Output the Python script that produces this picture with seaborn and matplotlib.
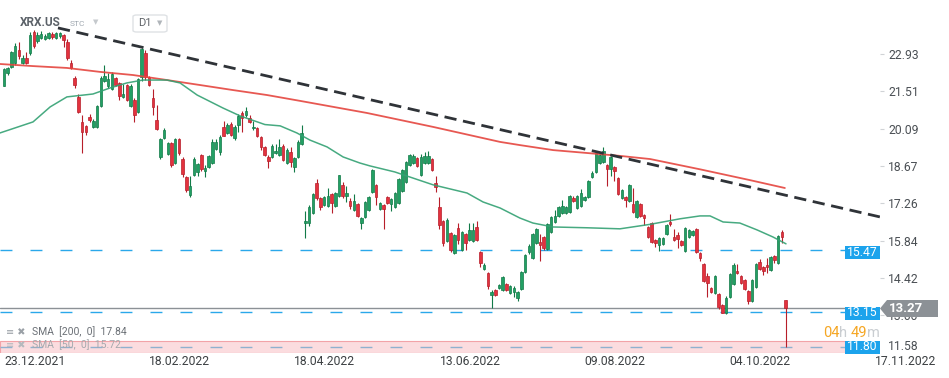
import matplotlib
matplotlib.use("Agg")
import matplotlib.pyplot as plt
import seaborn as sns
import pandas as pd
from matplotlib.patches import Polygon, Rectangle, FancyBboxPatch

# Données (bougies journalières XRX.US)
opens = [21.72, 22.20, 22.44, 22.60, 23.10, 22.60, 22.78, 22.97, 23.77, 23.43,
         23.55, 23.50, 23.53, 23.70, 23.55, 23.60, 23.65, 23.38, 22.60, 22.00,
         21.30, 20.35, 20.20, 20.55, 20.15, 20.15, 20.95, 21.90, 21.72, 21.60,
         22.00, 21.83, 21.30, 21.75, 20.95, 21.18, 20.73, 22.06, 22.97, 22.06,
         21.26, 20.43, 19.02, 19.74, 19.13, 19.55, 18.80, 19.70, 18.94, 18.26,
         17.57, 18.33, 18.45, 19.10, 18.50, 18.63, 18.80, 19.32, 19.21, 20.16,
         19.93, 20.27, 19.74, 20.23, 20.69, 20.61, 20.50, 20.10, 20.12, 19.78,
         19.40, 19.02, 19.02, 19.17, 19.10, 19.44, 18.80, 19.21, 18.64, 19.02,
         19.51, 16.50, 16.50, 16.89, 18.03, 17.46, 17.20, 17.16, 17.61, 17.16,
         17.54, 17.96, 17.54, 17.35, 17.00, 17.23, 16.50, 16.74, 17.00, 17.69,
         17.96, 17.04, 17.20, 17.50, 17.23, 17.12, 17.27, 17.73, 18.07, 18.71,
         18.79, 18.98, 18.33, 18.79, 18.80, 18.94, 18.03, 17.12, 16.59, 15.82,
         16.13, 15.37, 16.32, 15.49, 16.10, 15.86, 15.82, 16.36, 15.41, 14.77,
         14.61, 13.78, 13.97, 14.04, 13.97, 14.20, 13.86, 13.90, 13.67, 14.01,
         14.65, 15.40, 15.20, 15.75, 15.79, 15.98, 15.52, 16.17, 16.55, 16.78,
         16.90, 16.90, 16.93, 17.46, 17.08, 17.16, 17.38, 17.50, 18.26, 18.45,
         18.79, 18.83, 18.71, 18.56, 18.64, 18.22, 17.46, 17.50, 17.35, 17.23,
         16.74, 17.23, 16.82, 16.36, 16.52, 15.87, 15.67, 15.71, 16.10, 16.55,
         15.98, 16.06, 15.83, 15.45, 15.98, 16.06, 16.29, 15.37, 14.95, 14.50,
         14.04, 13.86, 13.82, 13.40, 13.10, 13.70, 14.20, 14.69, 14.50, 14.35,
         13.93, 13.55, 14.08, 15.03, 14.84, 14.92, 14.73, 15.26, 14.99, 16.17,
         13.59]
highs = [22.40, 22.45, 23.05, 23.35, 23.40, 22.90, 23.00, 23.75, 23.85, 23.75,
         23.80, 23.70, 23.78, 23.78, 23.78, 23.78, 23.70, 23.50, 22.70, 22.10,
         21.40, 20.60, 20.25, 20.65, 20.45, 21.00, 22.10, 22.50, 22.20, 22.25,
         22.05, 21.88, 21.80, 21.80, 21.78, 21.25, 22.00, 23.16, 23.10, 22.10,
         21.60, 21.00, 19.75, 20.10, 19.60, 19.60, 19.75, 19.75, 19.00, 18.30,
         18.30, 19.00, 18.80, 19.15, 18.70, 19.10, 19.70, 19.70, 19.85, 20.40,
         20.30, 20.35, 20.25, 20.65, 20.75, 20.90, 20.60, 20.40, 20.15, 19.82,
         19.45, 19.10, 19.50, 19.50, 19.70, 19.50, 19.35, 19.40, 19.00, 19.65,
         20.23, 16.96, 17.20, 17.65, 18.20, 17.50, 17.55, 17.85, 17.65, 17.70,
         18.35, 18.05, 17.90, 17.45, 17.60, 17.28, 16.75, 17.35, 17.55, 18.55,
         18.00, 17.32, 17.25, 17.55, 17.45, 17.70, 18.22, 18.56, 18.87, 19.15,
         19.15, 19.02, 19.15, 19.20, 19.25, 18.98, 18.30, 17.50, 16.62, 16.70,
         16.17, 16.10, 16.50, 16.20, 16.14, 16.50, 16.50, 16.60, 15.45, 14.98,
         14.65, 13.95, 14.02, 14.20, 14.50, 14.24, 14.16, 14.10, 13.94, 14.68,
         15.35, 15.70, 16.14, 16.33, 16.10, 16.02, 16.50, 16.78, 17.00, 17.16,
         17.40, 17.16, 17.58, 17.52, 17.58, 17.80, 17.54, 18.14, 18.50, 19.20,
         19.14, 19.40, 18.76, 19.06, 18.68, 18.26, 17.81, 17.54, 18.00, 17.85,
         17.39, 17.28, 16.86, 16.40, 16.56, 15.91, 15.98, 15.98, 16.48, 16.85,
         16.30, 16.17, 15.87, 16.36, 16.29, 16.25, 16.33, 15.41, 14.99, 14.60,
         14.08, 14.54, 13.86, 13.44, 13.75, 14.62, 15.00, 14.95, 14.54, 14.39,
         13.97, 14.39, 14.99, 15.15, 14.88, 15.20, 15.26, 15.30, 16.06, 16.25,
         13.60]
lows = [21.70, 22.15, 22.40, 22.50, 22.75, 22.55, 22.55, 22.90, 23.15, 23.35,
        23.50, 23.45, 23.48, 23.50, 23.50, 23.55, 23.20, 22.70, 22.35, 21.62,
        20.70, 19.17, 19.85, 20.35, 20.10, 20.10, 20.90, 21.85, 21.65, 21.55,
        21.70, 21.20, 21.25, 21.15, 20.90, 20.35, 20.70, 21.90, 21.95, 21.70,
        20.60, 20.05, 18.95, 19.70, 19.10, 18.65, 18.75, 19.10, 18.25, 17.70,
        17.50, 18.30, 18.30, 18.50, 18.25, 18.60, 18.75, 19.28, 19.10, 19.80,
        19.90, 19.80, 19.65, 19.98, 19.98, 20.55, 20.30, 20.05, 19.78, 19.28,
        19.05, 18.60, 18.98, 19.12, 19.05, 18.85, 18.75, 18.65, 18.45, 18.98,
        19.48, 15.94, 16.40, 16.85, 17.40, 17.00, 17.15, 17.10, 16.90, 17.10,
        17.50, 17.45, 17.30, 17.05, 16.95, 16.72, 16.30, 16.70, 16.95, 17.65,
        17.20, 17.00, 16.30, 17.22, 16.95, 17.08, 17.25, 17.70, 18.03, 18.68,
        18.75, 18.64, 18.30, 18.75, 18.76, 18.48, 17.70, 16.30, 15.65, 15.78,
        15.40, 15.35, 15.70, 15.45, 15.50, 15.82, 15.78, 15.82, 14.85, 14.72,
        14.00, 13.28, 13.74, 14.00, 13.93, 13.93, 13.82, 13.70, 13.55, 13.97,
        14.60, 15.35, 15.15, 15.70, 15.05, 15.50, 15.48, 16.12, 16.50, 16.74,
        16.86, 16.86, 16.90, 17.30, 17.04, 17.12, 17.34, 17.46, 18.22, 18.40,
        18.75, 18.80, 17.90, 18.30, 18.10, 17.57, 17.42, 17.10, 17.30, 16.90,
        16.70, 16.74, 16.45, 15.94, 15.75, 15.60, 15.45, 15.67, 16.06, 16.40,
        15.83, 15.56, 15.63, 15.41, 15.94, 16.02, 15.37, 15.07, 14.27, 13.70,
        13.86, 13.82, 13.25, 13.08, 13.06, 13.66, 14.16, 14.57, 14.19, 13.96,
        13.45, 13.51, 14.04, 14.73, 14.55, 14.60, 14.69, 15.00, 14.95, 15.75,
        11.80]
closes = [22.36, 22.40, 23.00, 23.25, 22.85, 22.78, 22.60, 23.65, 23.25, 23.65,
          23.68, 23.62, 23.72, 23.57, 23.72, 23.72, 23.45, 22.78, 22.40, 21.75,
          20.72, 19.97, 19.97, 20.43, 20.38, 20.95, 22.00, 22.10, 21.98, 22.17,
          21.75, 21.34, 21.42, 21.18, 21.70, 20.60, 21.98, 23.12, 22.06, 21.75,
          20.92, 20.08, 19.70, 20.04, 19.55, 18.72, 19.70, 19.17, 18.37, 17.77,
          17.92, 18.94, 18.75, 18.55, 18.60, 19.05, 19.60, 19.60, 19.78, 19.82,
          20.23, 19.85, 20.16, 20.58, 20.50, 20.76, 20.35, 20.16, 19.82, 19.40,
          19.10, 18.87, 19.44, 19.25, 19.40, 18.90, 19.30, 18.83, 18.98, 19.60,
          19.93, 16.60, 17.12, 17.61, 17.46, 17.12, 17.50, 17.54, 17.27, 17.65,
          18.33, 17.54, 17.65, 17.16, 17.35, 16.78, 16.70, 17.31, 17.50, 18.52,
          17.50, 17.27, 17.04, 17.27, 17.42, 17.65, 18.18, 18.52, 18.83, 19.10,
          19.06, 18.68, 19.02, 19.06, 19.06, 18.52, 17.88, 16.44, 15.75, 16.63,
          15.49, 16.06, 15.86, 16.17, 15.75, 16.25, 16.25, 15.86, 14.99, 14.92,
          14.12, 13.90, 13.78, 14.16, 14.46, 13.97, 14.12, 14.04, 13.90, 14.65,
          15.30, 15.65, 16.10, 16.29, 15.67, 15.56, 16.47, 16.74, 16.78, 17.12,
          17.16, 17.12, 17.54, 17.35, 17.54, 17.65, 17.50, 18.10, 18.41, 19.17,
          19.10, 19.25, 18.56, 19.02, 18.48, 17.61, 17.77, 17.38, 17.96, 16.93,
          17.35, 16.78, 16.70, 15.98, 15.79, 15.75, 15.94, 15.94, 16.44, 16.48,
          15.87, 15.90, 15.67, 16.32, 16.25, 16.21, 15.41, 15.18, 14.31, 14.23,
          13.90, 14.50, 13.32, 13.10, 13.67, 14.58, 14.92, 14.61, 14.23, 14.00,
          13.55, 14.35, 14.95, 14.77, 14.69, 14.84, 15.22, 15.10, 16.02, 15.98,
          13.27]

# Moyennes mobiles lues point par point (position en nombre de bougies)
sma200_x = [-1.1, 7.8, 16.9, 25.8, 34.7, 43.8, 52.7, 61.5, 70.7, 79.5,
            97.5, 115.3, 133.3, 138.6, 147.5, 156.6, 165.5, 173.6, 187.0, 200.4, 209.8]
sma200_y = [22.55, 22.47, 22.40, 22.25, 22.13, 21.94, 21.75, 21.56, 21.37, 21.15,
            20.69, 20.16, 19.59, 19.47, 19.28, 19.17, 19.06, 18.94, 18.55, 18.14, 17.84]
sma50_x = [-1.1, 7.8, 12.4, 16.9, 23.9, 28.5, 33.0, 37.3, 43.8, 47.3, 51.9, 58.8,
           63.4, 70.1, 74.2, 78.7, 82.2, 86.8, 91.1, 95.6, 98.3, 105.0, 115.3,
           124.4, 128.7, 133.3, 138.6, 142.1, 147.5, 156.6, 165.5, 173.6, 181.6,
           187.0, 189.7, 193.2, 197.7, 202.3, 206.6, 210.1]
sma50_y = [19.93, 20.35, 20.92, 21.30, 21.41, 21.64, 21.83, 21.94, 21.94, 21.83,
           21.37, 20.88, 20.58, 20.25, 20.20, 19.93, 19.66, 19.40, 19.02, 18.79,
           18.68, 18.45, 17.96, 17.65, 17.31, 17.08, 16.70, 16.51, 16.36, 16.33,
           16.29, 16.46, 16.67, 16.78, 16.78, 16.55, 16.51, 16.25, 15.98, 15.72]

trend_x = [14.5, 235.4]
trend_y = [23.92, 16.74]

levels = [15.47, 13.15]
support_low = 11.80
last_price = 13.27

y_ticks = [22.93, 21.51, 20.09, 18.67, 17.26, 15.84, 14.42, 13.00]
date_pos = [0, 39, 78, 117, 156, 195, 234]
date_labels = ["23.12.2021", "18.02.2022", "18.04.2022", "13.06.2022",
               "09.08.2022", "04.10.2022", "17.11.2022"]

df = pd.DataFrame({"open": opens, "high": highs, "low": lows, "close": closes})
df["idx"] = range(len(df))
df["up"] = df["close"] >= df["open"]

sns.set_theme(style="white")
plt.rcParams["font.family"] = ["Roboto", "DejaVu Sans"]

W, H = 949, 378
def fx(px):
    return px / W
def fy(py):
    return 1 - py / H

fig = plt.figure(figsize=(W / 100, H / 100), dpi=100, facecolor="white")
ax = fig.add_axes([0, fy(353), fx(880), fy(0) - fy(353)])
ax.set_facecolor("white")

# Bougies
green_f, green_e = "#22a064", "#127a48"
red_f, red_e = "#e3323e", "#b71e2a"
face = [green_f if u else red_f for u in df["up"]]
edge = [green_e if u else red_e for u in df["up"]]
ax.vlines(df["idx"], df["low"], df["high"], colors=edge, linewidth=0.8, zorder=2)
body = (df["close"] - df["open"]).abs().clip(lower=0.03)
ax.bar(df["idx"], body, bottom=df[["open", "close"]].min(axis=1), width=0.68,
       color=face, edgecolor=edge, linewidth=0.5, zorder=3)

# Moyennes mobiles
sns.lineplot(x=sma200_x, y=sma200_y, ax=ax, color="#e5463f", linewidth=1.3,
             alpha=0.9, zorder=4)
sns.lineplot(x=sma50_x, y=sma50_y, ax=ax, color="#33a173", linewidth=1.1,
             alpha=0.9, zorder=4)

# Ligne de tendance
ax.plot(trend_x, trend_y, color="#2f3338", linewidth=2.0, dashes=(4.4, 2.4),
        zorder=5, solid_capstyle="butt")

# Niveaux horizontaux
xmax_lvl = 845 / 880
for lv in levels:
    ax.axhline(lv, xmin=0, xmax=xmax_lvl, color="#2aa8ea", linewidth=1.0,
               dashes=(8.6, 13), zorder=1)
ax.axhspan(support_low - 0.22, support_low + 0.23, xmin=0, xmax=xmax_lvl,
           facecolor="#fbdcdf", edgecolor="#f2a3a8", linewidth=0.8, zorder=0.5)
ax.axhline(support_low, xmin=0, xmax=xmax_lvl, color="#8fb1cf", linewidth=1.0,
           dashes=(8.6, 13), zorder=1)
ax.axhline(last_price, color="#8c9196", linewidth=1.0, zorder=1.5)

ax.set_xlim(-1.075, 235.36)
ax.set_ylim(11.574, 24.98)
for s in ax.spines.values():
    s.set_visible(False)

ax.yaxis.tick_right()
ax.set_yticks(y_ticks)
ax.set_yticklabels([f"{v:.2f}" for v in y_ticks])
ax.tick_params(axis="y", length=3, width=0.8, color="#d0d3d6", pad=3,
               labelsize=8.7, labelcolor="#4a4f54", right=True, left=False)
ax.set_xticks(date_pos)
ax.set_xticklabels(date_labels)
ax.tick_params(axis="x", length=0, pad=1.5, labelsize=8.7, labelcolor="#3c4043")
for lab in ax.get_xticklabels():
    lab.set_ha("left")
ax.set_xlabel("")
ax.set_ylabel("")
ax.grid(False)

fig.text(fx(888), fy(347), "11.58", fontsize=8.7, color="#4a4f54",
         ha="left", va="center")

# Étiquettes de prix à droite
blue = "#1ca3ec"
for val, yc in [(15.47, 252), (13.15, 313), (support_low, 347)]:
    fig.add_artist(Rectangle((fx(845), fy(yc + 6.5)), fx(35), 13 / H,
                             facecolor=blue, edgecolor="none", zorder=5))
    fig.text(fx(862.5), fy(yc), f"{val:.2f}", fontsize=8.7, color="white",
             ha="center", va="center", zorder=6)

tag = [(880, 308.5), (887, 300), (938, 300), (938, 317), (887, 317)]
fig.add_artist(Polygon([(fx(a), fy(b)) for a, b in tag], closed=True,
                       facecolor="#8c9196", edgecolor="none", zorder=5))
fig.text(fx(906), fy(308.5), f"{last_price:.2f}", fontsize=9.5, color="white",
         fontweight="bold", ha="center", va="center", zorder=6)

# Compte à rebours
orange, light = "#f5a623", "#c9cdd1"
for txt, xpos, col in [("04", 823, orange), ("h", 839, light),
                       ("49", 851, orange), ("m", 867, light)]:
    fig.text(fx(xpos), fy(333), txt, fontsize=10.5, color=col, ha="left",
             va="center")

# En-tête
fig.text(fx(20), fy(23), "XRX.US", fontsize=8.5, fontweight="bold",
         color="#5b6168", ha="left", va="center")
fig.text(fx(70), fy(24), "STC", fontsize=6, color="#a0a8b0", ha="left",
         va="center")
fig.text(fx(96), fy(22), "▼", fontsize=5, color="#c5c9cd", ha="center",
         va="center", family=["DejaVu Sans"])
fig.add_artist(FancyBboxPatch((fx(133), fy(32)), fx(34), 17 / H,
                              boxstyle="round,pad=0,rounding_size=0.004",
                              facecolor="white", edgecolor="#dfe2e5",
                              linewidth=1, zorder=5))
fig.text(fx(138), fy(23.5), "D1", fontsize=8, color="#5f6368", ha="left",
         va="center", zorder=6)
fig.text(fx(160), fy(23), "▼", fontsize=5, color="#b0b5ba", ha="center",
         va="center", family=["DejaVu Sans"], zorder=6)

# Légende des moyennes
fig.text(fx(6), fy(332), "≡ ✖", fontsize=7, color="#9aa0a6", ha="left",
         va="center", family=["DejaVu Sans"])
fig.text(fx(32), fy(332), "SMA  [200,  0]  17.84", fontsize=7.5,
         color="#6b7076", ha="left", va="center")
fig.text(fx(6), fy(345), "≡ ✖", fontsize=7, color="#b5b9bd", ha="left",
         va="center", family=["DejaVu Sans"])
fig.text(fx(32), fy(345), "SMA  [50,  0]  15.72", fontsize=7.5,
         color="#a5a9ad", ha="left", va="center")

fig.savefig("out.png", dpi=100, facecolor="white")
